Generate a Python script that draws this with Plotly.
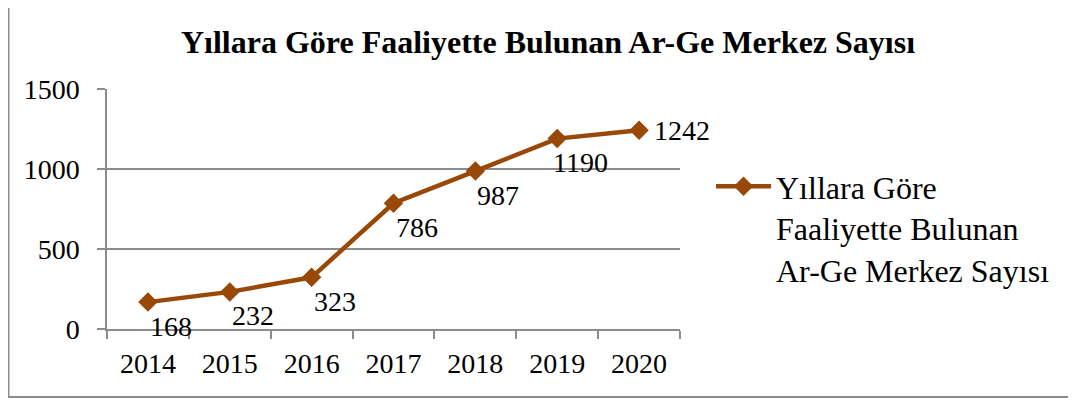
import plotly.graph_objects as go

years = ["2014", "2015", "2016", "2017", "2018", "2019", "2020"]
centers = [168, 232, 323, 786, 987, 1190, 1242]
y_ticks = [0, 500, 1000, 1500]

title_text = "Yıllara Göre Faaliyette Bulunan Ar-Ge Merkez Sayısı"
series_name = "Yıllara Göre<br>Faaliyette Bulunan<br>Ar-Ge Merkez Sayısı"

# the page body has an 8px default margin, so the figure is offset by 8px
OFF = 8
W, H = 1076 - OFF, 403 - OFF
L, T = 107 - OFF, 89 - OFF
R = W - (680 - OFF)
B = H - (329 - OFF)
pw, ph = W - L - R, H - T - B
color = "#984807"
grid = "#8c8c8c"
font = "Liberation Serif, Times New Roman, serif"

fig = go.Figure()
fig.add_trace(go.Scatter(
    x=years, y=centers, mode="lines+markers", name=series_name,
    line=dict(color=color, width=4.5),
    marker=dict(symbol="diamond", size=15, color=color),
))

# data labels (x given as category index)
for i, v in enumerate(centers):
    last = i == len(centers) - 1
    fig.add_annotation(
        x=i, y=v, xref="x", yref="y", text=str(v), showarrow=False,
        xanchor="center", yanchor="middle",
        xshift=43 if last else 23, yshift=0 if last else -24,
        font=dict(family=font, size=28, color="black"),
    )

def px2x(p):
    return (p - OFF - L) / pw

def px2y(p):
    return 1 - (p - OFF - T) / ph

# outer chart border
fig.add_shape(type="rect", xref="paper", yref="paper",
              x0=px2x(OFF + 0.5), x1=px2x(1075), y0=px2y(397), y1=px2y(0),
              line=dict(color="#8c8c8c", width=2), layer="below")

fig.update_layout(
    width=W, height=H,
    margin=dict(l=L, r=R, t=T, b=B, autoexpand=False),
    paper_bgcolor="white", plot_bgcolor="white",
    font=dict(family=font, size=28, color="black"),
    title=dict(text="<b>" + title_text + "</b>", x=(548 - OFF) / W, xanchor="center",
               y=1 - (42 - OFF) / H, yanchor="middle",
               font=dict(family=font, size=32, color="black")),
    showlegend=True,
    legend=dict(x=px2x(711), y=px2y(159), xanchor="left", yanchor="top",
                xref="paper", yref="paper", valign="top",
                font=dict(family=font, size=32, color="black"),
                bgcolor="rgba(0,0,0,0)", tracegroupgap=0, itemwidth=55),
)
fig.update_xaxes(
    type="category", range=[-0.5, len(years) - 0.5], autorange=False,
    tickson="boundaries", ticks="outside", ticklen=8, tickangle=0,
    tickcolor=grid, tickwidth=1.5, showline=True, linecolor=grid, linewidth=1.5,
    showgrid=False, ticklabelstandoff=9, automargin=False,
    tickfont=dict(family=font, size=28, color="black"),
)
fig.update_yaxes(
    range=[0, 1500], autorange=False, tickvals=y_ticks, ticks="outside", ticklen=8,
    tickcolor=grid, tickwidth=1.5, showline=True, linecolor=grid, linewidth=1.5,
    showgrid=True, gridcolor=grid, gridwidth=1.5, zeroline=False,
    ticklabelstandoff=12, automargin=False,
    tickfont=dict(family=font, size=28, color="black"),
)

fig.write_html("out.html")
